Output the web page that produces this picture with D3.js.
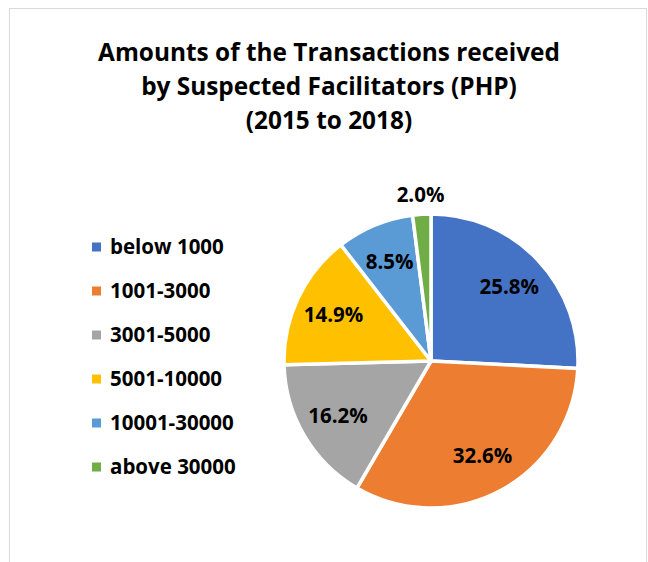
<!DOCTYPE html>
<html>
<head>
<meta charset="utf-8">
<script src="https://cdn.jsdelivr.net/npm/d3@7"></script>
<style>
  body { margin: 0; background: #fff; }
  text { font-family: "Open Sans", Lato, sans-serif; font-weight: bold; fill: #000; }
</style>
</head>
<body>
<svg id="chart" width="648" height="562"></svg>
<script>
// values, in drawing order (clockwise from 12 o'clock)
var categories = ['below 1000', '1001-3000', '3001-5000', '5001-10000', '10001-30000', 'above 30000']
var shares = [25.8, 32.6, 16.2, 14.9, 8.5, 2.0]
var colors = ['#4472C4', '#ED7D31', '#A5A5A5', '#FFC000', '#5B9BD5', '#70AD47']
var titleLines = ['Amounts of the Transactions received', 'by Suspected Facilitators (PHP)', '(2015 to 2018)']

var svg = d3.select('#chart')

// chart area frame
svg.append('rect')
  .attr('x', 9.5).attr('y', 8.5)
  .attr('width', 637).attr('height', 600)
  .attr('fill', 'none').attr('stroke', '#d9d9d9')

svg.append('g').selectAll('text')
  .data(titleLines)
  .join('text')
    .attr('x', 329)
    .attr('y', (d, i) => 61 + i * 34)
    .attr('text-anchor', 'middle')
    .style('font-size', '24.4px')
    .text(d => d)

var data = categories.map((c, i) => ({name: c, value: shares[i], color: colors[i]}))

var r = 147
var g = svg.append('g').attr('transform', 'translate(431,361)')

var pie = d3.pie().value(d => d.value).sort(null)
var arc = d3.arc().innerRadius(0).outerRadius(r)
var labelArc = d3.arc().innerRadius(108).outerRadius(108)
var outsideArc = d3.arc().innerRadius(167).outerRadius(167)

var slices = pie(data)

g.selectAll('path')
  .data(slices)
  .join('path')
    .attr('d', arc)
    .attr('fill', d => d.data.color)
    .attr('stroke', '#fff')
    .attr('stroke-width', 3.5)
    .attr('stroke-linejoin', 'round')

g.selectAll('text')
  .data(slices)
  .join('text')
    .attr('transform', d => {
      var p = d.data.value < 5 ? outsideArc.centroid(d) : labelArc.centroid(d)
      return 'translate(' + p + ')'
    })
    .attr('text-anchor', 'middle')
    .attr('dy', '0.36em')
    .style('font-size', '20.5px')
    .text(d => d.data.value.toFixed(1) + '%')

// legend
var legend = svg.append('g').attr('transform', 'translate(92,247)')
var row = legend.selectAll('g')
  .data(data)
  .join('g')
    .attr('transform', (d, i) => 'translate(0,' + i * 44 + ')')

row.append('rect')
  .attr('x', 0).attr('y', -4.5)
  .attr('width', 9).attr('height', 9)
  .attr('fill', d => d.color)

row.append('text')
  .attr('x', 18)
  .attr('dy', '0.36em')
  .style('font-size', '20.5px')
  .text(d => d.name)
</script>
</body>
</html>
